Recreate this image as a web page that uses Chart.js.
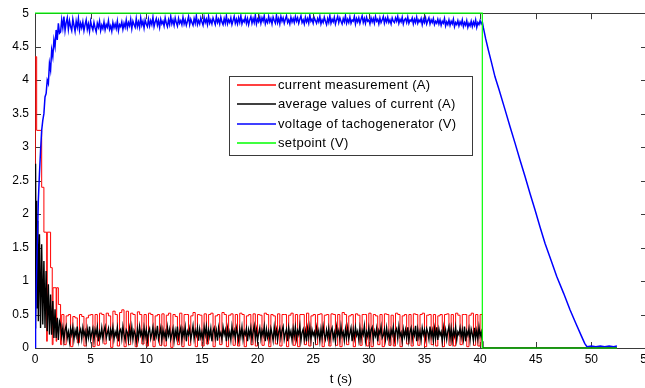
<!DOCTYPE html>
<html>
<head>
<meta charset="utf-8">
<script src="https://cdn.jsdelivr.net/npm/chart.js@4/dist/chart.umd.min.js"></script>
<style>
html,body{margin:0;padding:0;background:#fff;overflow:hidden;width:645px;height:388px;}
canvas{display:block;}
</style>
</head>
<body>
<canvas id="c" width="670" height="388" style="width:670px;height:388px"></canvas>
<script>
// ---- axis ticks ----
const xTickMin = 0, xTickMax = 55, xTickStep = 5;
const yTickMin = 0, yTickMax = 5, yTickStep = 0.5;
const xTitle = 't (s)';

// ---- series labels / colours ----
const seriesLabels = ['current measurement (A)', 'average values of current (A)', 'voltage of tachogenerator (V)', 'setpoint (V)'];
const seriesColors = ['#ff0000', '#000000', '#0000ff', '#00ff00'];

// ---- setpoint ----
const setpointT = [0, 40.2, 40.2, 52.3];
const setpointV = [5, 5, 0, 0];

// ---- tachogenerator voltage ----
const voltRiseT = [0,0.05,0.1,0.2,0.3,0.4,0.5,0.6,0.7,0.8,0.9,1.0,1.1,1.2,1.3,1.4,1.5,1.6,1.7,1.8,1.9,2.0,2.1,2.2];
const voltRiseV = [0,0.4,0.8,1.5,2.2,2.6,2.95,3.25,3.4,3.5,3.75,3.8,4.0,3.95,4.25,4.15,4.45,4.35,4.6,4.5,4.75,4.6,4.85,4.7];
const voltSteadyStart = 2.3, voltSteadyStep = 0.1;
const voltSteadyV = [
4.72,4.9,4.78,4.95,4.74,4.86,4.93,4.76,4.89,4.8,
4.74,4.91,4.82,4.73,4.88,4.79,4.92,4.75,4.85,4.78,
4.87,4.74,4.83,4.9,4.76,4.84,4.73,4.88,4.8,4.75,
4.86,4.78,4.72,4.85,4.79,4.88,4.74,4.82,4.77,4.87,
4.75,4.83,4.79,4.89,4.76,4.81,4.73,4.86,4.78,4.84,
4.77,4.88,4.74,4.83,4.8,4.87,4.76,4.85,4.79,4.9,
4.78,4.86,4.81,4.91,4.77,4.88,4.83,4.79,4.92,4.8,
4.87,4.79,4.93,4.82,4.88,4.78,4.9,4.84,4.8,4.91,
4.81,4.89,4.83,4.94,4.8,4.87,4.92,4.82,4.89,4.79,
4.91,4.84,4.88,4.81,4.93,4.85,4.8,4.9,4.83,4.95,
4.84,4.9,4.82,4.93,4.86,4.81,4.92,4.85,4.89,4.83,
4.94,4.84,4.9,4.82,4.88,4.95,4.83,4.91,4.86,4.82,
4.92,4.85,4.96,4.83,4.89,4.84,4.93,4.87,4.82,4.94,
4.86,4.91,4.83,4.95,4.85,4.9,4.84,4.93,4.88,4.83,
4.95,4.86,4.91,4.84,4.94,4.87,4.83,4.92,4.85,4.96,
4.84,4.9,4.86,4.93,4.83,4.89,4.95,4.85,4.91,4.84,
4.93,4.86,4.96,4.84,4.9,4.87,4.94,4.85,4.92,4.83,
4.9,4.95,4.85,4.92,4.86,4.97,4.84,4.91,4.87,4.94,
4.85,4.93,4.88,4.96,4.84,4.9,4.86,4.95,4.87,4.92,
4.84,4.94,4.89,4.85,4.97,4.86,4.92,4.84,4.95,4.88,
4.93,4.85,4.91,4.96,4.86,4.9,4.84,4.94,4.87,4.92,
4.86,4.95,4.88,4.93,4.85,4.91,4.96,4.86,4.9,4.84,
4.94,4.87,4.92,4.85,4.97,4.88,4.91,4.85,4.93,4.89,
4.85,4.92,4.87,4.95,4.84,4.9,4.86,4.94,4.88,4.83,
4.92,4.86,4.96,4.85,4.91,4.87,4.94,4.84,4.9,4.95,
4.86,4.93,4.88,4.84,4.92,4.87,4.96,4.85,4.91,4.86,
4.94,4.85,4.9,4.88,4.95,4.84,4.92,4.87,4.93,4.85,
4.91,4.96,4.86,4.92,4.85,4.94,4.88,4.9,4.84,4.93,
4.87,4.92,4.85,4.95,4.88,4.91,4.84,4.93,4.86,4.9,
4.95,4.85,4.92,4.87,4.94,4.86,4.9,4.84,4.93,4.88,
4.86,4.93,4.88,4.95,4.85,4.91,4.87,4.94,4.84,4.9,
4.92,4.86,4.94,4.85,4.9,4.88,4.93,4.84,4.91,4.86,
4.94,4.85,4.9,4.87,4.92,4.83,4.91,4.86,4.93,4.84,
4.89,4.93,4.84,4.9,4.86,4.92,4.83,4.88,4.85,4.91,
4.84,4.9,4.82,4.88,4.85,4.92,4.81,4.87,4.83,4.9,
4.82,4.88,4.84,4.91,4.8,4.86,4.83,4.89,4.81,4.87,
4.83,4.9,4.8,4.86,4.82,4.89,4.79,4.85,4.81,4.88,
4.8,4.87,4.82,4.9,4.79,4.86,4.83,4.89,4.84,4.87];
const voltDecayT = [40.3,40.5,40.74,41.0,41.34,41.7,42.24,42.7,43.14,43.6,44.04,44.5,44.94,45.4,45.84,46.4,46.88,47.5,48.08,48.6,49.13,49.4,49.6,50,50.4,50.8,51.2,51.6,52,52.3];
const voltDecayV = [4.78,4.62,4.45,4.28,4.05,3.86,3.56,3.3,3.06,2.8,2.56,2.3,2.06,1.8,1.56,1.3,1.07,0.82,0.57,0.37,0.17,0.07,0.02,0.03,0.02,0.03,0.02,0.03,0.02,0.03];

// ---- current measurement (stepped) ----
const currEarlyT = [0,0.02,0.15,0.6,0.8,1.05,1.1,1.4,1.55,1.62,1.9,1.95,2.1,2.3];
const currEarlyV = [0,4.35,3.25,2.4,1.73,0.1,1.73,1.2,0.05,0.9,0.1,0.9,0.65,0.05];
const currSteadyStart = 2.4, currSteadyStep = 0.2;
const currSteadyV = [
0.5,0.05,0.48,0.5,0.02,0.47,0.45,0.08,0.5,0.47,
0.03,0.45,0.49,0.5,0.02,0.5,0.04,0.52,0.5,0.06,
0.52,0.48,0.01,0.55,0.5,0.03,0.53,0.57,0.02,0.55,
0.05,0.52,0.5,0.02,0.54,0.5,0.06,0.5,0.03,0.52,
0.5,0.02,0.48,0.5,0.04,0.51,0.03,0.49,0.52,0.01,
0.5,0.47,0.05,0.52,0.02,0.5,0.5,0.04,0.48,0.53,
0.02,0.5,0.49,0.03,0.51,0.06,0.5,0.52,0.02,0.48,
0.5,0.05,0.53,0.5,0.02,0.49,0.51,0.04,0.5,0.03,
0.52,0.5,0.02,0.48,0.5,0.05,0.51,0.03,0.5,0.49,
0.04,0.52,0.5,0.02,0.5,0.48,0.06,0.51,0.03,0.5,
0.5,0.02,0.49,0.52,0.04,0.5,0.02,0.5,0.5,0.05,
0.52,0.03,0.48,0.5,0.05,0.5,0.51,0.02,0.49,0.5,
0.03,0.51,0.5,0.04,0.5,0.02,0.53,0.5,0.05,0.48,
0.5,0.02,0.51,0.49,0.04,0.5,0.5,0.03,0.52,0.02,
0.5,0.48,0.05,0.5,0.02,0.51,0.5,0.04,0.49,0.03,
0.52,0.5,0.02,0.48,0.5,0.06,0.5,0.03,0.51,0.5,
0.04,0.5,0.52,0.02,0.49,0.5,0.05,0.5,0.03,0.48,
0.5,0.02,0.5,0.51,0.04,0.5,0.03,0.52,0.49,0.05,
0.5,0.5,0.02,0.49,0.52,0.04,0.5,0.03,0.5,0.0];
const currTailT = [52.3];
const currTailV = [0];

// ---- average current ----
const avgEarlyT = [0,0.05,0.1,0.15,0.2,0.25,0.3,0.4,0.5,0.6,0.7,0.8,0.9,1.0,1.1,1.2,1.3,1.4,1.5,1.6,1.7,1.8,1.9,2.0,2.1,2.2];
const avgEarlyV = [0.3,2.75,0.9,2.2,0.6,1.9,0.4,1.7,0.3,1.55,0.35,1.3,0.3,1.15,0.25,0.95,0.2,0.8,0.2,0.7,0.15,0.58,0.15,0.45,0.12,0.4];
const avgSteadyStart = 2.3, avgSteadyStep = 0.1;
const avgSteadyV = [
0.35,0.18,0.3,0.12,0.27,0.33,0.15,0.24,0.1,0.29,
0.2,0.31,0.13,0.26,0.18,0.32,0.11,0.23,0.28,0.14,
0.3,0.19,0.25,0.1,0.28,0.16,0.32,0.13,0.22,0.29,
0.12,0.27,0.2,0.31,0.1,0.24,0.17,0.3,0.14,0.26,
0.32,0.15,0.22,0.29,0.11,0.27,0.19,0.31,0.13,0.24,
0.18,0.3,0.1,0.25,0.28,0.14,0.32,0.2,0.12,0.27,
0.23,0.11,0.29,0.16,0.31,0.13,0.26,0.21,0.09,0.28,
0.15,0.32,0.19,0.25,0.12,0.3,0.17,0.27,0.1,0.24,
0.29,0.14,0.22,0.31,0.11,0.26,0.18,0.33,0.13,0.21,
0.3,0.12,0.27,0.17,0.24,0.1,0.31,0.19,0.28,0.13,
0.21,0.29,0.11,0.26,0.16,0.32,0.14,0.23,0.3,0.12,
0.27,0.18,0.31,0.1,0.25,0.2,0.29,0.13,0.22,0.33,
0.14,0.26,0.19,0.3,0.11,0.28,0.16,0.24,0.12,0.31,
0.2,0.32,0.13,0.27,0.17,0.29,0.1,0.25,0.3,0.15,
0.26,0.11,0.3,0.18,0.23,0.13,0.31,0.2,0.27,0.1,
0.29,0.16,0.24,0.12,0.32,0.19,0.26,0.14,0.3,0.21,
0.11,0.28,0.17,0.31,0.13,0.25,0.2,0.29,0.1,0.27,
0.18,0.3,0.12,0.24,0.33,0.15,0.27,0.11,0.22,0.3,
0.14,0.26,0.19,0.32,0.1,0.28,0.16,0.25,0.13,0.29,
0.21,0.11,0.31,0.17,0.27,0.12,0.24,0.3,0.15,0.26,
0.32,0.13,0.22,0.28,0.1,0.3,0.18,0.25,0.12,0.29,
0.17,0.31,0.14,0.26,0.2,0.33,0.11,0.23,0.28,0.13,
0.25,0.1,0.29,0.16,0.31,0.13,0.27,0.19,0.24,0.12,
0.3,0.18,0.26,0.11,0.28,0.15,0.32,0.2,0.13,0.27,
0.16,0.29,0.12,0.25,0.3,0.14,0.23,0.1,0.31,0.19,
0.26,0.13,0.32,0.18,0.24,0.11,0.28,0.16,0.3,0.14,
0.22,0.3,0.1,0.27,0.15,0.31,0.19,0.25,0.12,0.29,
0.13,0.26,0.2,0.33,0.11,0.24,0.17,0.3,0.14,0.27,
0.31,0.12,0.25,0.18,0.29,0.1,0.26,0.21,0.32,0.15,
0.19,0.28,0.13,0.3,0.16,0.24,0.11,0.27,0.2,0.31,
0.12,0.25,0.29,0.14,0.32,0.18,0.23,0.1,0.28,0.17,
0.27,0.15,0.31,0.11,0.24,0.3,0.13,0.26,0.19,0.33,
0.1,0.28,0.16,0.25,0.12,0.3,0.2,0.27,0.14,0.29,
0.23,0.13,0.32,0.17,0.26,0.11,0.29,0.15,0.31,0.12,
0.28,0.19,0.24,0.1,0.3,0.16,0.27,0.13,0.25,0.32,
0.14,0.29,0.11,0.26,0.18,0.31,0.12,0.24,0.2,0.3,
0.16,0.27,0.13,0.32,0.1,0.25,0.19,0.29,0.12,0.28,
0.21,0.11,0.3,0.15,0.26,0.13,0.31,0.18,0.24,0.1];
const avgTailT = [40.25, 52.3];
const avgTailV = [0, 0];

// ---- build points ----
function pts(ts, vs) { return ts.map((t, i) => ({x: t, y: vs[i]})); }
function sampled(start, step, vs) { return vs.map((v, i) => ({x: Math.round((start + i * step) * 100) / 100, y: v})); }

const currData = [...pts(currEarlyT, currEarlyV), ...sampled(currSteadyStart, currSteadyStep, currSteadyV), ...pts(currTailT, currTailV)];
const avgData = [...pts(avgEarlyT, avgEarlyV), ...sampled(avgSteadyStart, avgSteadyStep, avgSteadyV), ...pts(avgTailT, avgTailV)];
const voltData = [...pts(voltRiseT, voltRiseV), ...sampled(voltSteadyStart, voltSteadyStep, voltSteadyV), ...pts(voltDecayT, voltDecayV)];
const setData = pts(setpointT, setpointV);

const FONT = '"Liberation Sans", Arial, sans-serif';

const boxTicks = {
  id: 'boxTicks',
  beforeDatasetsDraw(chart) {
    const {ctx, chartArea: a, scales} = chart;
    ctx.save();
    ctx.strokeStyle = '#3a3a3a';
    ctx.lineWidth = 1;
    ctx.strokeRect(Math.round(a.left) + 0.5, Math.round(a.top) + 0.5, Math.round(a.right - a.left), Math.round(a.bottom - a.top));
    const L = 6;
    ctx.beginPath();
    scales.x.ticks.forEach(t => {
      const px = Math.round(scales.x.getPixelForValue(t.value)) + 0.5;
      ctx.moveTo(px, a.bottom); ctx.lineTo(px, a.bottom - L);
      ctx.moveTo(px, a.top); ctx.lineTo(px, a.top + L);
    });
    scales.y.ticks.forEach(t => {
      const py = Math.round(scales.y.getPixelForValue(t.value)) + 0.5;
      ctx.moveTo(a.left, py); ctx.lineTo(a.left + L, py);
      ctx.moveTo(a.right, py); ctx.lineTo(a.right - L, py);
    });
    ctx.stroke();
    ctx.restore();
  }
};

const boxLegend = {
  id: 'boxLegend',
  afterDraw(chart) {
    const {ctx} = chart;
    const x0 = 229, y0 = 76, x1 = 472, y1 = 155;
    ctx.save();
    ctx.fillStyle = '#fff';
    ctx.fillRect(x0, y0, x1 - x0, y1 - y0);
    ctx.strokeStyle = '#3a3a3a';
    ctx.lineWidth = 1;
    ctx.strokeRect(x0 + 0.5, y0 + 0.5, x1 - x0, y1 - y0);
    ctx.font = '13px ' + FONT;
    try { ctx.letterSpacing = '0.35px'; } catch (e) {}
    ctx.textBaseline = 'middle';
    ctx.textAlign = 'left';
    seriesLabels.forEach((label, i) => {
      const y = Math.round(85 + i * 19.3);
      ctx.beginPath();
      ctx.strokeStyle = seriesColors[i];
      ctx.lineWidth = 1.3;
      ctx.moveTo(237, y); ctx.lineTo(276, y);
      ctx.stroke();
      ctx.fillStyle = '#000';
      ctx.fillText(label, 278, y);
    });
    ctx.restore();
  }
};

new Chart(document.getElementById('c'), {
  type: 'line',
  data: {
    datasets: [
      {label: seriesLabels[0], data: currData, borderColor: seriesColors[0], borderWidth: 1, stepped: true, order: 3},
      {label: seriesLabels[1], data: avgData, borderColor: seriesColors[1], borderWidth: 1.4, order: 2},
      {label: seriesLabels[2], data: voltData, borderColor: seriesColors[2], borderWidth: 1.5, order: 1},
      {label: seriesLabels[3], data: setData, borderColor: seriesColors[3], borderWidth: 1.2, order: 0, clip: 3}
    ]
  },
  options: {
    responsive: false,
    animation: false,
    devicePixelRatio: 1,
    elements: {point: {radius: 0}, line: {tension: 0, fill: false}},
    layout: {padding: {left: 0, top: 13, right: 23, bottom: 0}},
    plugins: {legend: {display: false}, tooltip: {enabled: false}},
    scales: {
      x: {
        type: 'linear', min: xTickMin, max: xTickMax,
        ticks: {stepSize: xTickStep, color: '#000', font: {family: FONT, size: 12}, padding: 4, maxRotation: 0, autoSkip: false},
        grid: {display: false, drawTicks: false},
        border: {display: false},
        title: {display: true, text: xTitle, color: '#000', font: {family: FONT, size: 13}, padding: {top: 0, bottom: 1}},
        afterFit(s) { s.height = 40; }
      },
      y: {
        type: 'linear', min: yTickMin, max: yTickMax,
        ticks: {stepSize: yTickStep, color: '#000', font: {family: FONT, size: 12}, padding: 6,
                callback: v => String(Math.round(v * 10) / 10)},
        grid: {display: false, drawTicks: false},
        border: {display: false},
        afterFit(s) { s.width = 35; }
      }
    }
  },
  plugins: [boxTicks, boxLegend]
});
</script>
</body>
</html>
